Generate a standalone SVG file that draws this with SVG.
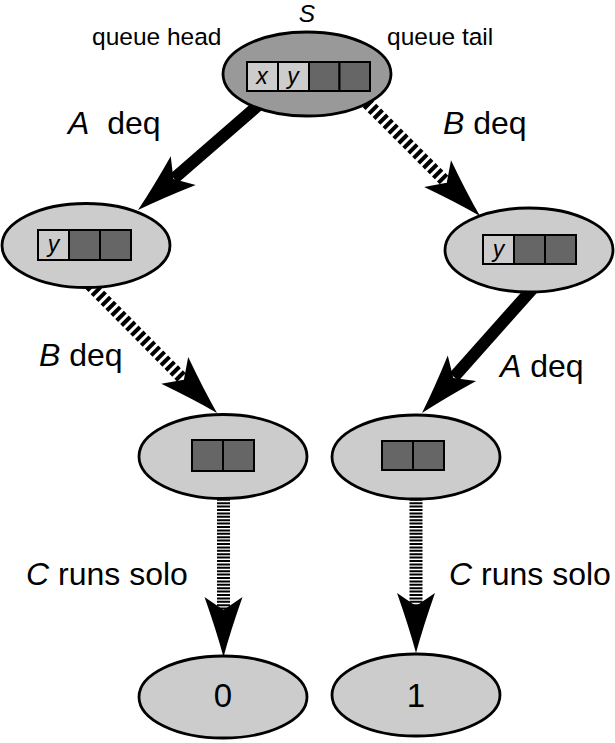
<svg xmlns="http://www.w3.org/2000/svg" width="615" height="743" viewBox="0 0 615 743">
<defs>
<style>
.lbl{font-family:"Liberation Sans",Arial,sans-serif;font-size:32px;fill:#000}
.sm{font-family:"Liberation Sans",Arial,sans-serif;font-size:24.5px;fill:#000}
.it{font-style:italic}
.node{fill:#cccccc;stroke:#000;stroke-width:2.8}
.top{fill:#999999}
.lc{fill:#cccccc;stroke:#000;stroke-width:2}
.dc{fill:#666666;stroke:#000;stroke-width:2}
.ct{font-family:"Liberation Sans",Arial,sans-serif;font-size:23px;font-style:italic;text-anchor:middle;fill:#000}
.solid{stroke:#000;stroke-width:12;fill:none}
.dash{stroke:#000;stroke-width:12;fill:none;stroke-dasharray:4 3}
.fine{stroke:#000;stroke-width:13;fill:none;stroke-dasharray:2 1.4}
.num{font-family:"Liberation Sans",Arial,sans-serif;font-size:33px;text-anchor:middle;fill:#000}
</style>
<path id="head" d="M0,0 Q-26,-7 -60,-19 L-47,0 L-60,19 Q-26,7 0,0Z" fill="#000"/>
</defs>

<g id="connectors">
  <line class="solid" x1="262" y1="102" x2="174" y2="178.5"/>
  <use href="#head" transform="translate(138,210) rotate(138.9)"/>
  <line class="dash" x1="362" y1="98" x2="446" y2="182"/>
  <use href="#head" transform="translate(480,216) rotate(45)"/>
  <line class="dash" x1="90" y1="285" x2="183" y2="379"/>
  <use href="#head" transform="translate(217,413) rotate(45.2)"/>
  <line class="solid" x1="535" y1="286" x2="454" y2="377"/>
  <use href="#head" transform="translate(422,413) rotate(131.75)"/>
  <line class="fine" x1="223.5" y1="492" x2="223.5" y2="610"/>
  <use href="#head" transform="translate(223.5,657) rotate(90)"/>
  <line class="fine" x1="416" y1="492" x2="416" y2="606"/>
  <use href="#head" transform="translate(416,653) rotate(90)"/>
</g>

<g id="node-s">
  <ellipse class="node top" cx="307" cy="74" rx="84" ry="42"/>
  <rect class="lc" x="247" y="62" width="31" height="29"/>
  <rect class="lc" x="278" y="62" width="31" height="29"/>
  <rect class="dc" x="309" y="62" width="30.5" height="29"/>
  <rect class="dc" x="339.5" y="62" width="30.5" height="29"/>
  <text class="ct" x="262" y="84">x</text>
  <text class="ct" x="293" y="84">y</text>
</g>

<g id="node-left1">
  <ellipse class="node" cx="86" cy="245.5" rx="84" ry="42"/>
  <rect class="lc" x="38" y="230" width="31" height="30"/>
  <rect class="dc" x="69" y="230" width="31" height="30"/>
  <rect class="dc" x="100" y="230" width="31" height="30"/>
  <text class="ct" x="53.5" y="252">y</text>
</g>

<g id="node-right1">
  <ellipse class="node" cx="529" cy="250" rx="84" ry="42"/>
  <rect class="lc" x="483" y="235" width="31" height="29"/>
  <rect class="dc" x="514" y="235" width="31" height="29"/>
  <rect class="dc" x="545" y="235" width="31" height="29"/>
  <text class="ct" x="498.5" y="257">y</text>
</g>

<g id="node-left2">
  <ellipse class="node" cx="223" cy="456.5" rx="84" ry="42"/>
  <rect class="dc" x="192" y="440" width="31" height="31"/>
  <rect class="dc" x="223" y="440" width="31" height="31"/>
</g>

<g id="node-right2">
  <ellipse class="node" cx="416" cy="457" rx="84" ry="42"/>
  <rect class="dc" x="382" y="441" width="31" height="29"/>
  <rect class="dc" x="413" y="441" width="31" height="29"/>
</g>

<g id="node-0">
  <ellipse class="node" cx="223" cy="697" rx="84" ry="41"/>
  <text class="num" x="223" y="707">0</text>
</g>

<g id="node-1">
  <ellipse class="node" cx="416" cy="695" rx="84" ry="41"/>
  <text class="num" x="416" y="707">1</text>
</g>

<g id="labels">
  <text class="sm it" x="307" y="21.5" text-anchor="middle" font-size="20">S</text>
  <text class="sm" x="92" y="45">queue head</text>
  <text class="sm" x="387" y="45">queue tail</text>
  <text class="lbl" x="68" y="134" xml:space="preserve"><tspan class="it">A</tspan>  deq</text>
  <text class="lbl" x="443" y="134"><tspan class="it">B</tspan> deq</text>
  <text class="lbl" x="39" y="366"><tspan class="it">B</tspan> deq</text>
  <text class="lbl" x="500" y="377"><tspan class="it">A</tspan> deq</text>
  <text class="lbl" x="26" y="585"><tspan class="it">C</tspan> runs solo</text>
  <text class="lbl" x="449" y="585"><tspan class="it">C</tspan> runs solo</text>
</g>
</svg>
